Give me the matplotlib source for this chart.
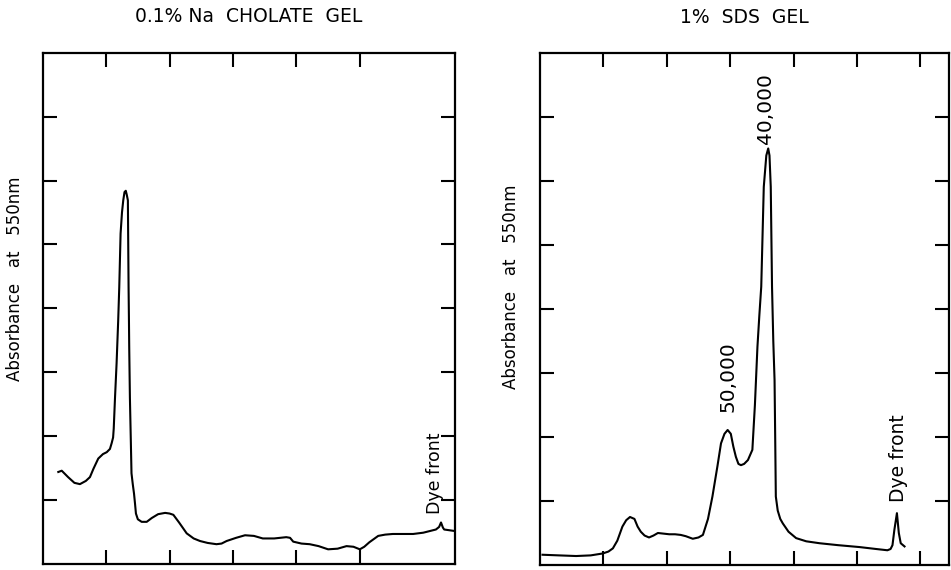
import matplotlib
matplotlib.use("Agg")
import matplotlib.pyplot as plt

# ---- data ----
cholate_x = [0.246, 0.30, 0.40, 0.50, 0.587, 0.68, 0.745, 0.80, 0.876, 0.95, 1.01, 1.06, 1.087, 1.11, 1.12,
             1.14, 1.165, 1.19, 1.207, 1.228, 1.25, 1.27, 1.29, 1.31, 1.325, 1.343, 1.354, 1.36, 1.364,
             1.375, 1.39, 1.40, 1.42, 1.44, 1.455, 1.47, 1.50, 1.56, 1.64, 1.72, 1.82, 1.93, 2.00,
             2.06, 2.15, 2.27, 2.38, 2.48, 2.60, 2.74, 2.82, 2.90, 3.05, 3.19, 3.33, 3.47, 3.65, 3.84,
             3.90, 3.95, 4.08, 4.21, 4.35, 4.50, 4.65, 4.79, 4.90, 5.00, 5.07, 5.15, 5.29, 5.40, 5.52,
             5.70, 5.84, 6.00, 6.20, 6.25, 6.28, 6.31, 6.33, 6.40, 6.47]
cholate_y = [1.44, 1.46, 1.36, 1.27, 1.25, 1.30, 1.36, 1.49, 1.65, 1.72, 1.75, 1.80, 1.89, 1.98, 2.12,
             2.60, 3.14, 3.80, 4.33, 5.17, 5.50, 5.69, 5.82, 5.84, 5.78, 5.69, 4.33, 3.80, 3.40,
             2.60, 1.90, 1.42, 1.25, 1.10, 0.95, 0.79, 0.70, 0.66, 0.66, 0.72, 0.78, 0.80, 0.79,
             0.77, 0.65, 0.48, 0.40, 0.36, 0.33, 0.31, 0.32, 0.36, 0.41, 0.45, 0.44, 0.40, 0.40, 0.42,
             0.41, 0.35, 0.32, 0.31, 0.28, 0.23, 0.24, 0.28, 0.27, 0.23, 0.27, 0.34, 0.44, 0.46, 0.47,
             0.47, 0.47, 0.49, 0.54, 0.58, 0.65, 0.57, 0.54, 0.53, 0.52]

sds_x = [0.04, 0.30, 0.57, 0.80, 0.99, 1.08, 1.15, 1.22, 1.30, 1.36, 1.42, 1.49, 1.54, 1.59, 1.65, 1.72,
         1.79, 1.86, 1.95, 2.04, 2.13, 2.22, 2.30, 2.41, 2.50, 2.57, 2.65, 2.72, 2.80, 2.855, 2.91, 2.96,
         3.01, 3.05, 3.09, 3.13, 3.17, 3.22, 3.28, 3.35, 3.39, 3.43, 3.46, 3.49, 3.53, 3.57, 3.60, 3.62,
         3.64, 3.66, 3.68, 3.70, 3.71, 3.72, 3.75, 3.79, 3.83, 3.92, 4.04, 4.20, 4.41, 4.70, 5.04, 5.30,
         5.48, 5.53, 5.56, 5.59, 5.63, 5.66, 5.69, 5.75]
sds_y = [0.16, 0.15, 0.14, 0.15, 0.18, 0.21, 0.26, 0.38, 0.60, 0.70, 0.75, 0.72, 0.60, 0.52, 0.46, 0.43,
         0.46, 0.50, 0.49, 0.48, 0.48, 0.47, 0.45, 0.41, 0.43, 0.47, 0.72, 1.07, 1.55, 1.90, 2.05, 2.11,
         2.05, 1.85, 1.69, 1.58, 1.56, 1.58, 1.64, 1.80, 2.50, 3.41, 3.90, 4.35, 5.91, 6.40, 6.51, 6.40,
         5.91, 4.35, 3.50, 2.89, 2.00, 1.07, 0.85, 0.72, 0.65, 0.52, 0.42, 0.37, 0.34, 0.31, 0.28, 0.25,
         0.23, 0.25, 0.31, 0.55, 0.81, 0.50, 0.34, 0.29]

titles = ["0.1% Na  CHOLATE  GEL", "1%  SDS  GEL"]
ylabel = "Absorbance   at   550nm"

fig = plt.figure(figsize=(9.51, 5.70), dpi=100)
ax1 = fig.add_axes([0.0449, 0.0105, 0.4335, 0.897])
ax2 = fig.add_axes([0.5678, 0.0088, 0.430, 0.898])

lw = 1.5
ax1.plot(cholate_x, cholate_y, color="black", lw=lw, solid_joinstyle="round")
ax2.plot(sds_x, sds_y, color="black", lw=lw, solid_joinstyle="round")

ax1.set_xlim(0, 6.5)
ax1.set_xticks([1, 2, 3, 4, 5])
ax2.set_xlim(0, 6.45)
ax2.set_xticks([1, 2, 3, 4, 5, 6])

for ax, title in [(ax1, titles[0]), (ax2, titles[1])]:
    ax.set_ylim(0, 8)
    ax.set_yticks([1, 2, 3, 4, 5, 6, 7])
    ax.tick_params(direction="in", length=10, width=1.5, top=True, right=True,
                   labelbottom=False, labelleft=False)
    for s in ax.spines.values():
        s.set_linewidth(1.6)
    ax.set_ylabel(ylabel, fontsize=12)
    ax.set_title(title, fontsize=13.5, pad=22)

ax1.yaxis.set_label_coords(-0.045, 0.557)
ax2.yaxis.set_label_coords(-0.049, 0.543)

ax1.text(6.18, 1.42, "Dye front", rotation=90, ha="center", va="center", fontsize=12.5)
ax2.text(3.56, 7.14, "40,000", rotation=90, ha="center", va="center", fontsize=14.5)
ax2.text(2.97, 2.95, "50,000", rotation=90, ha="center", va="center", fontsize=14.5)
ax2.text(5.65, 1.67, "Dye front", rotation=90, ha="center", va="center", fontsize=13.5)

fig.savefig("out.png", dpi=100)
